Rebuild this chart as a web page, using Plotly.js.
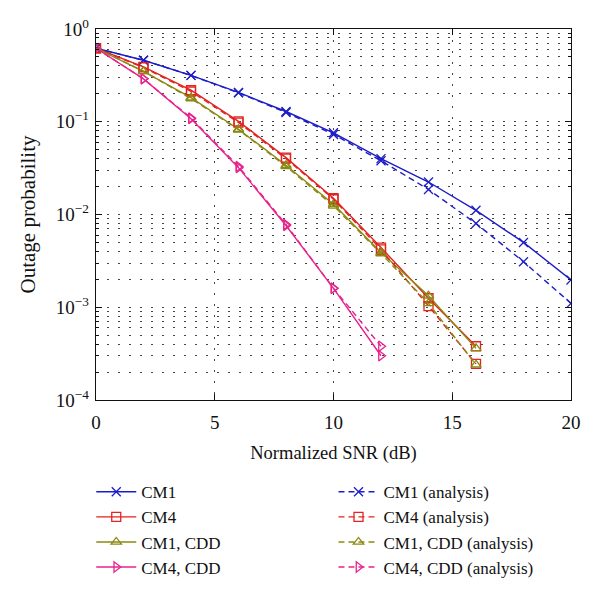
<!DOCTYPE html>
<html>
<head>
<meta charset="utf-8">
<script src="https://cdn.plot.ly/plotly-3.0.1.min.js"></script>
<style>html,body{margin:0;padding:0;background:#fff;}#chart{width:600px;height:597px;}</style>
</head>
<body>
<div id="chart"></div>
<script>
// Data
var snrLong = [0, 2, 4, 6, 8, 10, 12, 14, 16, 18, 20];
var snrMid = [0, 2, 4, 6, 8, 10, 12, 14, 16];
var snrShort = [0, 2, 4, 6, 8, 10, 12];

var cm1Sim = [0.62, 0.46, 0.316, 0.207, 0.129, 0.076, 0.040, 0.0224, 0.0111, 0.0050, 0.00197];
var cm1Ana = [0.62, 0.46, 0.316, 0.205, 0.126, 0.073, 0.038, 0.0186, 0.0080, 0.0031, 0.00110];
var cm4Sim = [0.62, 0.39, 0.219, 0.101, 0.041, 0.0150, 0.0044, 0.00125, 0.00038];
var cm4Ana = [0.62, 0.385, 0.212, 0.098, 0.040, 0.0146, 0.0042, 0.00103, 0.000245];
var cm1CddSim = [0.62, 0.35, 0.182, 0.083, 0.034, 0.0129, 0.0039, 0.00133, 0.00036];
var cm1CddAna = [0.62, 0.35, 0.178, 0.082, 0.033, 0.0124, 0.0038, 0.0011, 0.00024];
var cm4CddSim = [0.62, 0.29, 0.108, 0.032, 0.0076, 0.0016, 0.00030];
var cm4CddAna = [0.62, 0.29, 0.110, 0.033, 0.0078, 0.0016, 0.00038];

var names = ["CM1", "CM4", "CM1, CDD", "CM4, CDD",
             "CM1 (analysis)", "CM4 (analysis)", "CM1, CDD (analysis)", "CM4, CDD (analysis)"];
var yTickVals = [1, 0.1, 0.01, 0.001, 0.0001];
var yTickText = ["10<sup>0</sup>", "10<sup>\u22121</sup>", "10<sup>\u22122</sup>", "10<sup>\u22123</sup>", "10<sup>\u22124</sup>"];
var xTickVals = [0, 5, 10, 15, 20];

var cBlue = "#1c1cc8", cRed = "#e2231f", cOlive = "#8a8a12", cPink = "#e8228c";

function tr(x, y, name, color, symbol, dash, legend) {
  return {
    x: x, y: y, name: name, type: "scatter", mode: "lines+markers",
    line: {color: color, width: 1.4, dash: dash},
    marker: {symbol: symbol, size: 9, color: color, line: {color: color, width: 1.3}},
    legend: legend
  };
}

var data = [
  tr(snrLong, cm1Sim, names[0], cBlue, "x-thin-open", "solid", "legend"),
  tr(snrMid, cm4Sim, names[1], cRed, "square-open", "solid", "legend"),
  tr(snrMid, cm1CddSim, names[2], cOlive, "triangle-up-open", "solid", "legend"),
  tr(snrShort, cm4CddSim, names[3], cPink, "triangle-right-open", "solid", "legend"),
  tr(snrLong, cm1Ana, names[4], cBlue, "x-thin-open", "6px,4px", "legend2"),
  tr(snrMid, cm4Ana, names[5], cRed, "square-open", "6px,4px", "legend2"),
  tr(snrMid, cm1CddAna, names[6], cOlive, "triangle-up-open", "6px,4px", "legend2"),
  tr(snrShort, cm4CddAna, names[7], cPink, "triangle-right-open", "6px,4px", "legend2")
];

var fontFam = "Liberation Serif, Times New Roman, serif";
var gridDash = "2px,9px";

var layout = {
  width: 600, height: 597,
  margin: {l: 96, r: 29, t: 29, b: 193},
  paper_bgcolor: "#fff", plot_bgcolor: "#fff",
  font: {family: fontFam, size: 18, color: "#111"},
  showlegend: true,
  xaxis: {
    range: [0, 20], tickvals: xTickVals, ticks: "inside", ticklen: 6, tickcolor: "#111",
    showline: true, linecolor: "#111", linewidth: 1.3, mirror: "allticks",
    showgrid: true, gridcolor: "#444", griddash: gridDash, gridwidth: 1,
    zeroline: false, ticklabelstandoff: 5,
    tickfont: {family: fontFam, size: 19},
    title: {text: "Normalized SNR (dB)", font: {family: fontFam, size: 18.5}, standoff: 14}
  },
  yaxis: {
    type: "log", range: [-4, 0], tickvals: yTickVals, ticktext: yTickText,
    ticks: "inside", ticklen: 6, tickcolor: "#111",
    showline: true, linecolor: "#111", linewidth: 1.3, mirror: "allticks",
    showgrid: true, gridcolor: "#444", griddash: gridDash, gridwidth: 1,
    zeroline: false, ticklabelstandoff: 2,
    tickfont: {family: fontFam, size: 19},
    minor: {dtick: "D1", ticks: "inside", ticklen: 3, tickcolor: "#111", showgrid: true, gridcolor: "#444", griddash: gridDash, gridwidth: 1},
    title: {text: "Outage probability", font: {family: fontFam, size: 21}, standoff: 14}
  },
  legend: {
    x: -0.01, xanchor: "left", y: -0.2, yanchor: "top", orientation: "v",
    bgcolor: "rgba(0,0,0,0)", font: {family: fontFam, size: 17}, tracegroupgap: 0, itemwidth: 40
  },
  legend2: {
    x: 0.5, xanchor: "left", y: -0.2, yanchor: "top", orientation: "v",
    bgcolor: "rgba(0,0,0,0)", font: {family: fontFam, size: 17}, tracegroupgap: 0, itemwidth: 40
  }
};

Plotly.newPlot("chart", data, layout, {displayModeBar: false, staticPlot: true});
</script>
</body>
</html>
